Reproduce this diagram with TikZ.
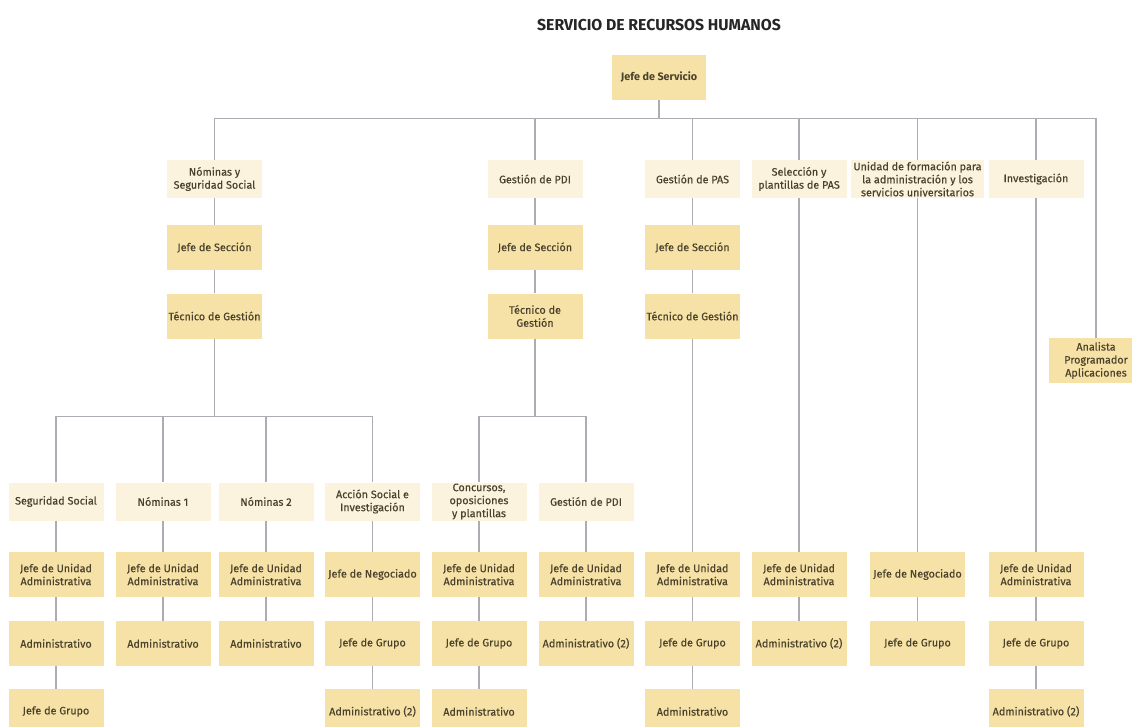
\documentclass[tikz,border=0pt]{standalone}
\usepackage{fontspec}
\setmainfont{Fira Sans}
\newfontfamily\boxfont[FakeBold=0.4]{Fira Sans}
\definecolor{dark}{RGB}{246,226,166}
\definecolor{light}{RGB}{251,243,222}
\definecolor{lin}{RGB}{172,172,178}
\definecolor{txt}{RGB}{74,66,44}
\definecolor{ttl}{RGB}{38,38,38}
\begin{document}
\begin{tikzpicture}[x=1pt,y=-1pt,
  box/.style={rectangle, fill=dark, minimum width=95pt, minimum height=45pt, inner sep=0pt, align=center, text=txt, font=\boxfont\fontsize{10.8}{13}\selectfont},
  lbox/.style={box, fill=light, minimum height=38pt},
  conn/.style={draw=lin, line width=1.4pt}]
\clip (0,0) rectangle (1132,726);
\fill[white] (0,0) rectangle (1132,726);
\node[font=\bfseries\fontsize{15.8}{17}\selectfont, text=ttl] (title) at (659,25) {SERVICIO DE RECURSOS HUMANOS};
\node[box, minimum width=94pt, font=\bfseries\fontsize{10.8}{13}\selectfont] (top) at (659,77.5) {Jefe de Servicio};
% row 2
\node[lbox] (nss) at (214.5,179) {Nóminas y\\Seguridad Social};
\node[lbox] (gpdi) at (535,179) {Gestión de PDI};
\node[lbox] (gpas) at (692.5,179) {Gestión de PAS};
\node[lbox] (sel) at (799,179) {Selección y\\plantillas de PAS};
\node[lbox, minimum width=133pt] (uni) at (917.5,179) {Unidad de formación para\\la administración y los\\servicios universitarios};
\node[lbox] (inv) at (1036,179) {Investigación};
% row 3
\node[box] (js1) at (214.5,247.5) {Jefe de Sección};
\node[box] (js2) at (535,247.5) {Jefe de Sección};
\node[box] (js3) at (692.5,247.5) {Jefe de Sección};
% row 4
\node[box] (tg1) at (214.5,316) {Técnico de Gestión};
\node[box] (tg2) at (535,316) {Técnico de\\Gestión};
\node[box] (tg3) at (692.5,316) {Técnico de Gestión};
\node[box] (ana) at (1096,360.5) {Analista\\Programador\\Aplicaciones};
% row 5
\node[lbox] (ss) at (56,501.5) {Seguridad Social};
\node[lbox] (n1) at (163,501.5) {Nóminas 1};
\node[lbox] (n2) at (266,501.5) {Nóminas 2};
\node[lbox] (asi) at (372.5,501.5) {Acción Social e\\Investigación};
\node[lbox] (con) at (479,501.5) {Concursos,\\oposiciones\\y plantillas};
\node[lbox] (gpdi2) at (586,501.5) {Gestión de PDI};
% row 6
\node[box] (a1) at (56,574.5) {Jefe de Unidad\\Administrativa};
\node[box] (b1) at (163,574.5) {Jefe de Unidad\\Administrativa};
\node[box] (c1) at (266,574.5) {Jefe de Unidad\\Administrativa};
\node[box] (d1) at (372.5,574.5) {Jefe de Negociado};
\node[box] (e1) at (479,574.5) {Jefe de Unidad\\Administrativa};
\node[box] (f1) at (586,574.5) {Jefe de Unidad\\Administrativa};
\node[box] (g1) at (692.5,574.5) {Jefe de Unidad\\Administrativa};
\node[box] (h1) at (799,574.5) {Jefe de Unidad\\Administrativa};
\node[box] (i1) at (917.5,574.5) {Jefe de Negociado};
\node[box] (j1) at (1036,574.5) {Jefe de Unidad\\Administrativa};
% row 7
\node[box] (a2) at (56,643.5) {Administrativo};
\node[box] (b2) at (163,643.5) {Administrativo};
\node[box] (c2) at (266,643.5) {Administrativo};
\node[box] (d2) at (372.5,643.5) {Jefe de Grupo};
\node[box] (e2) at (479,643.5) {Jefe de Grupo};
\node[box] (f2) at (586,643.5) {Administrativo (2)};
\node[box] (g2) at (692.5,643.5) {Jefe de Grupo};
\node[box] (h2) at (799,643.5) {Administrativo (2)};
\node[box] (i2) at (917.5,643.5) {Jefe de Grupo};
\node[box] (j2) at (1036,643.5) {Jefe de Grupo};
% row 8
\node[box] (a3) at (56,711.5) {Jefe de Grupo};
\node[box] (d3) at (372.5,711.5) {Administrativo (2)};
\node[box] (e3) at (479,711.5) {Administrativo};
\node[box] (g3) at (692.5,711.5) {Administrativo};
\node[box] (j3) at (1036,711.5) {Administrativo (2)};
% connectors
\foreach \c in {nss,gpdi,gpas,sel,uni,inv,ana}
  \draw[conn] (top.south) -- ++(0,18) -| (\c.north);
\foreach \c in {ss,n1,n2,asi}
  \draw[conn] (tg1.south) -- ++(0,78) -| (\c.north);
\foreach \c in {con,gpdi2}
  \draw[conn] (tg2.south) -- ++(0,78) -| (\c.north);
\foreach \p/\q in {nss/js1, js1/tg1, gpdi/js2, js2/tg2, gpas/js3, js3/tg3, tg3/g1, g1/g2, g2/g3,
  sel/h1, h1/h2, uni/i1, i1/i2, inv/j1, j1/j2, j2/j3,
  ss/a1, a1/a2, a2/a3, n1/b1, b1/b2, n2/c1, c1/c2, asi/d1, d1/d2, d2/d3,
  con/e1, e1/e2, e2/e3, gpdi2/f1, f1/f2}
  \draw[conn] (\p.south) -- (\q.north);
\end{tikzpicture}
\end{document}
